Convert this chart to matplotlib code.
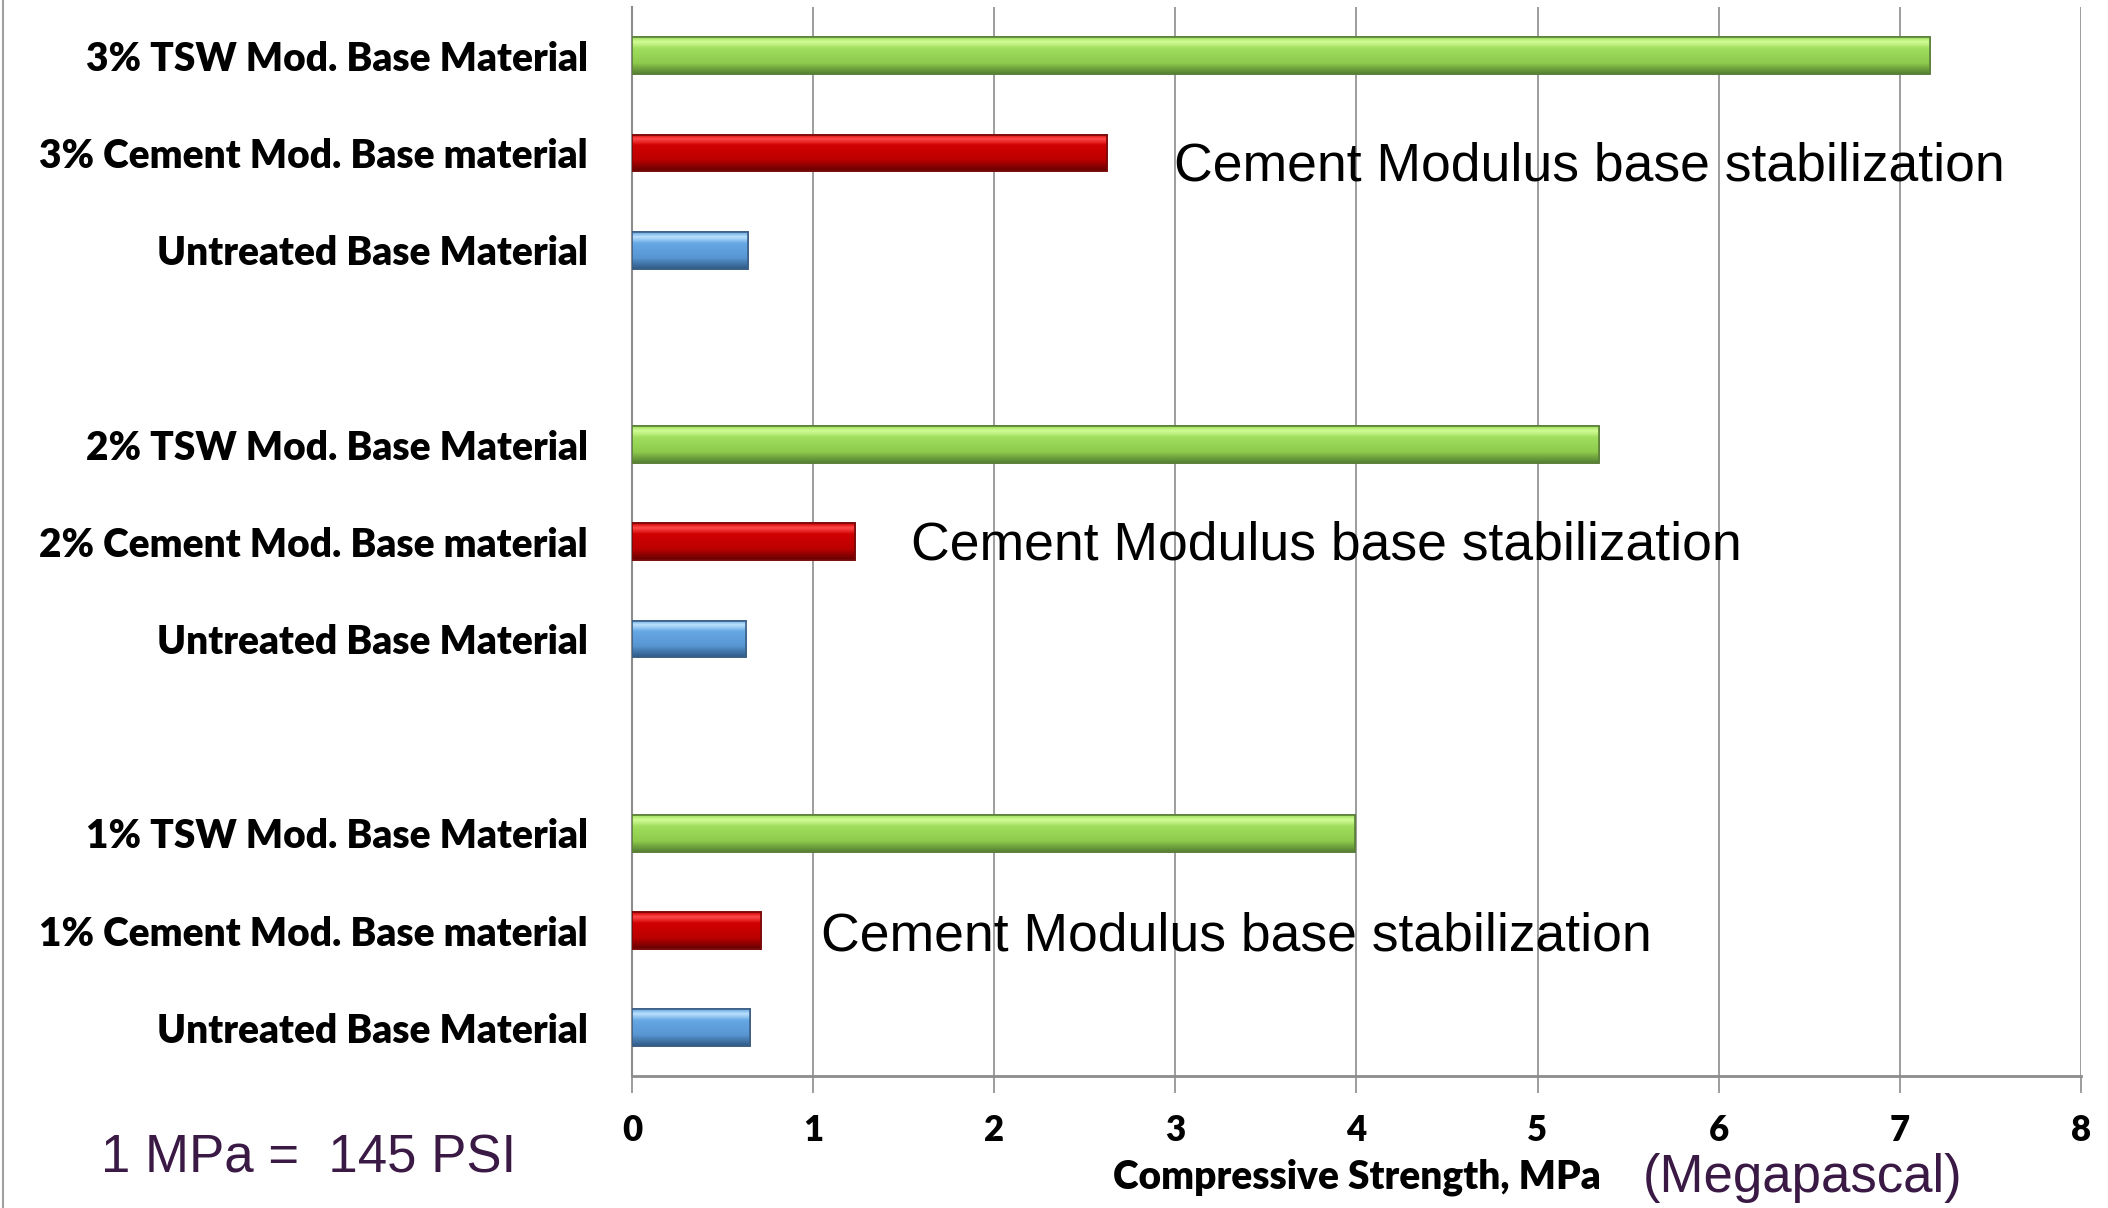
import numpy as np
import matplotlib
matplotlib.use("Agg")
import matplotlib.pyplot as plt
from matplotlib.colors import LinearSegmentedColormap

# ---- data (top to bottom) ----
categories = [
    "3% TSW Mod. Base Material",
    "3% Cement Mod. Base material",
    "Untreated Base Material",
    "",
    "2% TSW Mod. Base Material",
    "2% Cement Mod. Base material",
    "Untreated Base Material",
    "",
    "1% TSW Mod. Base Material",
    "1% Cement Mod. Base material",
    "Untreated Base Material",
]
values = [7.17, 2.62, 0.64, None, 5.34, 1.23, 0.63, None, 3.99, 0.71, 0.65]
kinds = ["tsw", "cement", "untreated", None,
         "tsw", "cement", "untreated", None,
         "tsw", "cement", "untreated"]
xticks = [0, 1, 2, 3, 4, 5, 6, 7, 8]
annotation_text = "Cement Modulus base stabilization"
annotation_pos = [(2.99, 1.14), (1.54, 5.04), (1.04, 9.06)]

palette = {
    "tsw": ["#D2FC96", "#A0DE5E", "#8ECB4D", "#557F31"],
    "cement": ["#FF4A4A", "#D00000", "#BC0000", "#650000"],
    "untreated": ["#BCE0FC", "#66A8E4", "#5896D2", "#2F5A86"],
}
edges = {"tsw": "#5C7F3A", "cement": "#7A0A0A", "untreated": "#3C5F85"}

fig = plt.figure(figsize=(21.08, 12.08), dpi=100)
ax = fig.add_axes([0.300, 0.109, 0.687, 0.885])

ypos = np.arange(len(categories))
bar_h = 0.38
for y, v, k in zip(ypos, values, kinds):
    if v is None:
        continue
    bars = ax.barh(y, v, height=bar_h, color=palette[k][1],
                   edgecolor=edges[k], linewidth=1.2, zorder=3)
    p = bars.patches[0]
    cmap = LinearSegmentedColormap.from_list(
        "g", [(0, palette[k][1]), (0.12, palette[k][0]), (0.3, palette[k][1]),
              (0.7, palette[k][2]), (1.0, palette[k][3])])
    grad = np.linspace(0, 1, 64).reshape(-1, 1)
    im = ax.imshow(grad, cmap=cmap, aspect="auto",
                   extent=(0, v, y + bar_h / 2, y - bar_h / 2),
                   zorder=3.5, interpolation="bilinear")
    im.set_clip_path(p)
    ax.barh(y, v, height=bar_h, color="none",
            edgecolor=edges[k], linewidth=1.2, zorder=4)

ax.set_xlim(0, 8)
ax.set_ylim(len(categories) - 0.5, -0.5)
ax.set_xticks(xticks)
ax.set_xticklabels([str(t) for t in xticks])
ax.set_yticks(ypos)
ax.set_yticklabels(categories)

ax.grid(axis="x", color="#8C8C8C", linewidth=1.2, zorder=0)
ax.set_axisbelow(True)
for s in ["top", "right"]:
    ax.spines[s].set_visible(False)
ax.spines["left"].set_color("#8C8C8C")
ax.spines["bottom"].set_color("#8C8C8C")
ax.spines["left"].set_linewidth(1.5)
ax.spines["bottom"].set_linewidth(2.0)
ax.tick_params(axis="y", length=0, pad=32)
ax.tick_params(axis="x", length=12, width=1.2, color="#8C8C8C", pad=15)

bold_fam = ["Lato", "DejaVu Sans"]
for t in ax.get_yticklabels():
    t.set_fontfamily(bold_fam)
    t.set_fontweight("heavy")
    t.set_fontsize(28)
for t in ax.get_xticklabels():
    t.set_fontfamily(bold_fam)
    t.set_fontweight("heavy")
    t.set_fontsize(25)

arial = ["Liberation Sans", "DejaVu Sans"]
for (x, y) in annotation_pos:
    ax.text(x, y, annotation_text, fontsize=38.5, family=arial,
            va="center", ha="left", zorder=5)

fig.text(0.6435, 0.0255, "Compressive Strength, MPa", fontsize=28,
         ha="center", va="center", family=bold_fam, weight="heavy")
fig.text(0.7793, 0.0245, "(Megapascal)", fontsize=38, color="#3A1A45",
         family=arial, ha="left", va="center")
fig.text(0.0478, 0.041, "1 MPa =  145 PSI", fontsize=38, color="#3A1A45",
         family=arial, ha="left", va="center")

# thin left border of the figure
fig.add_artist(plt.Line2D([0.0012, 0.0012], [0, 1], transform=fig.transFigure,
                          color="#A0A0A0", linewidth=1.5))

fig.savefig("out.png", dpi=100)
